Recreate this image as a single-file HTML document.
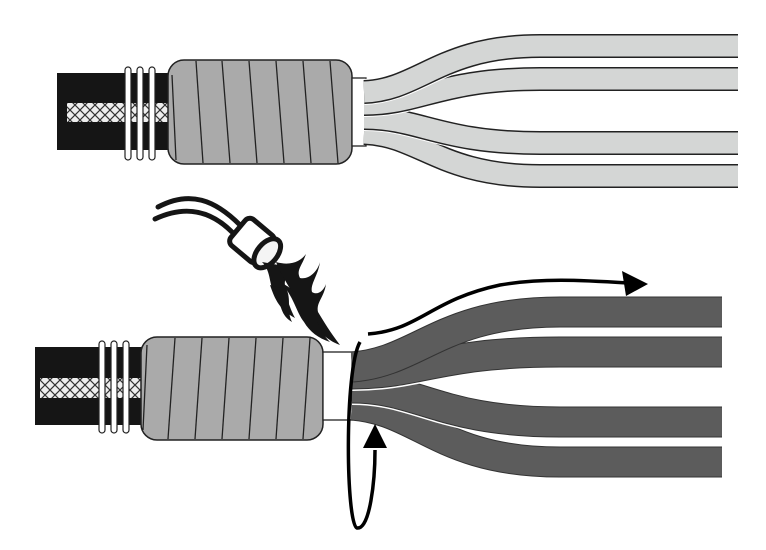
<!DOCTYPE html>
<html><head><style>html,body{margin:0;padding:0;background:#fff}svg{display:block}</style></head><body>
<svg width="766" height="550" viewBox="0 0 766 550" xmlns="http://www.w3.org/2000/svg">
<defs>
<pattern id="br" width="10" height="10" patternUnits="userSpaceOnUse">
<rect width="10" height="10" fill="#eee"/>
<path d="M0,0 L10,10 M10,0 L0,10 M-5,5 L5,15 M5,-5 L15,5" stroke="#333" stroke-width="1.2"/>
</pattern>
</defs>
<!-- TOP -->
<rect x="57" y="73" width="113" height="77" fill="#151515"/>
<rect x="67" y="103" width="101" height="19" fill="url(#br)"/>
<g fill="#fff" stroke="#222" stroke-width="1.2">
<rect x="125" y="67" width="6" height="93" rx="3"/>
<rect x="137" y="67" width="6" height="93" rx="3"/>
<rect x="149" y="67" width="6" height="93" rx="3"/>
</g>
<rect x="168" y="60" width="184" height="104" rx="16" fill="#aaa" stroke="#222" stroke-width="1.5"/>
<g stroke="#222" stroke-width="1.3">
<line x1="196" y1="61" x2="203" y2="163"/><line x1="222" y1="61" x2="230" y2="163"/>
<line x1="249" y1="61" x2="257" y2="163"/><line x1="276" y1="61" x2="284" y2="163"/>
<line x1="303" y1="61" x2="311" y2="163"/><line x1="330" y1="61" x2="338" y2="163"/>
<line x1="172" y1="75" x2="176" y2="160"/>
</g>
<rect x="352" y="78" width="14" height="68" fill="#fff" stroke="#222" stroke-width="1.3"/>
<g fill="none">
<path d="M364,133 C420,135 440,176 540,176 L738,176" stroke="#222" stroke-width="24"/>
<path d="M364,133 C420,135 440,176 540,176 L738,176" stroke="#d4d6d5" stroke-width="21"/>
<path d="M364,118 C420,118 440,143 540,143 L738,143" stroke="#fff" stroke-width="26"/>
<path d="M364,118 C420,118 440,143 540,143 L738,143" stroke="#222" stroke-width="24"/>
<path d="M364,118 C420,118 440,143 540,143 L738,143" stroke="#d4d6d5" stroke-width="21"/>
<path d="M364,104 C420,104 440,79 540,79 L738,79" stroke="#fff" stroke-width="26"/>
<path d="M364,104 C420,104 440,79 540,79 L738,79" stroke="#222" stroke-width="24"/>
<path d="M364,104 C420,104 440,79 540,79 L738,79" stroke="#d4d6d5" stroke-width="21"/>
<path d="M364,92 C420,90 440,46 540,46 L738,46" stroke="#fff" stroke-width="26"/>
<path d="M364,92 C420,90 440,46 540,46 L738,46" stroke="#222" stroke-width="24"/>
<path d="M364,92 C420,90 440,46 540,46 L738,46" stroke="#d4d6d5" stroke-width="21"/>
</g>
<!-- BOTTOM -->
<rect x="35" y="347" width="108" height="78" fill="#151515"/>
<rect x="40" y="378" width="103" height="20" fill="url(#br)"/>
<g fill="#fff" stroke="#222" stroke-width="1.2">
<rect x="99" y="341" width="6" height="92" rx="3"/>
<rect x="111" y="341" width="6" height="92" rx="3"/>
<rect x="123" y="341" width="6" height="92" rx="3"/>
</g>
<rect x="141" y="337" width="182" height="103" rx="16" fill="#aaa" stroke="#222" stroke-width="1.5"/>
<g stroke="#222" stroke-width="1.3">
<line x1="175" y1="338" x2="168" y2="439"/><line x1="202" y1="338" x2="195" y2="439"/>
<line x1="229" y1="338" x2="222" y2="439"/><line x1="256" y1="338" x2="249" y2="439"/>
<line x1="283" y1="338" x2="276" y2="439"/><line x1="310" y1="338" x2="303" y2="439"/>
<line x1="147" y1="345" x2="143" y2="430"/>
</g>
<rect x="323" y="352" width="29" height="68" fill="#fff" stroke="#222" stroke-width="1.3"/>
<g fill="none">
<path d="M352,405 C420,410 440,462 560,462 L722,462" stroke="#333" stroke-width="31"/>
<path d="M352,405 C420,410 440,462 560,462 L722,462" stroke="#5c5c5c" stroke-width="29"/>
<path d="M352,388 C420,388 440,422 560,422 L722,422" stroke="#fff" stroke-width="34"/>
<path d="M352,388 C420,388 440,422 560,422 L722,422" stroke="#333" stroke-width="31"/>
<path d="M352,388 C420,388 440,422 560,422 L722,422" stroke="#5c5c5c" stroke-width="29"/>
<path d="M352,374 C420,374 440,352 560,352 L722,352" stroke="#fff" stroke-width="34"/>
<path d="M352,374 C420,374 440,352 560,352 L722,352" stroke="#333" stroke-width="31"/>
<path d="M352,374 C420,374 440,352 560,352 L722,352" stroke="#5c5c5c" stroke-width="29"/>
<path d="M352,367 C420,362 440,312 560,312 L722,312" stroke="#333" stroke-width="31"/>
<path d="M352,367 C420,362 440,312 560,312 L722,312" stroke="#5c5c5c" stroke-width="29"/>
</g>
<!-- arrows -->
<path d="M368,334 C420,330 430,300 500,285 C540,278 580,280 628,283" fill="none" stroke="#000" stroke-width="3.5"/>
<polygon points="648,284 622,271 626,296" fill="#000"/>
<path d="M360,342 C344,370 346,525 357,528 C370,530 375,480 375,450" fill="none" stroke="#000" stroke-width="3.5"/>
<polygon points="375,424 363,448 387,448" fill="#000"/>
<!-- torch -->
<g fill="none" stroke="#151515" stroke-width="5" stroke-linecap="round">
<path d="M158,207 C190,190 215,200 240,225"/>
<path d="M155,219 C185,205 210,210 232,232"/>
</g>
<g transform="translate(255,243) rotate(40)">
<rect x="-22" y="-17" width="36" height="34" rx="6" fill="#fff" stroke="#151515" stroke-width="5"/>
<ellipse cx="16" cy="0" rx="10" ry="17" fill="#f4f4f4" stroke="#151515" stroke-width="5"/>
</g>
<g fill="#151515">
<path d="M262,262 C272,272 268,285 276,296 C282,305 280,315 292,322 C286,310 292,300 286,288 C282,280 290,276 284,266 Z"/>
<path d="M276,262 C290,266 300,262 306,254 C302,266 296,270 300,278 C310,280 318,270 320,262 C318,276 310,284 312,292 C318,296 324,290 326,284 C324,298 316,302 318,312 C324,322 330,332 340,345 C326,340 318,330 312,322 C300,312 298,300 292,292 C286,282 280,272 276,262 Z"/>
<path d="M280,282 C294,296 296,312 304,322 C310,332 318,338 330,342 C318,330 318,318 310,308 C302,300 296,290 280,282 Z"/>
<path d="M270,285 C275,300 280,310 295,318 C288,305 288,296 280,288 Z"/>
</g>
</svg>
</body></html>
